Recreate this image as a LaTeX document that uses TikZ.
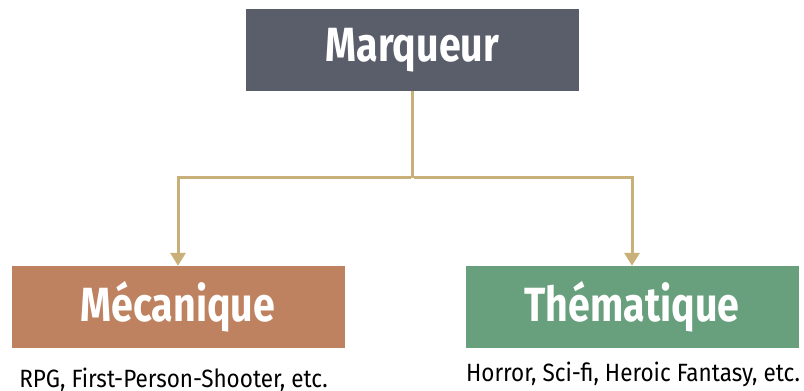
\documentclass[tikz,border=0pt]{standalone}
\usepackage{fontspec}
\setmainfont{Fira Sans}[FakeStretch=0.9]
\newfontfamily\titlefont{Fira Sans}[FakeStretch=0.82,UprightFont=* SemiBold,BoldFont=* Bold]
\usetikzlibrary{arrows.meta}
\definecolor{topgray}{RGB}{90,94,106}
\definecolor{mechbrown}{RGB}{190,130,96}
\definecolor{themegreen}{RGB}{104,160,126}
\definecolor{linkgold}{RGB}{200,176,120}
\tikzset{
  x=1pt, y=1pt,
  box/.style={rectangle, minimum width=333pt, minimum height=82pt, inner sep=0pt,
    text=white, font=\titlefont\bfseries\fontsize{48}{50}\selectfont},
  caption/.style={anchor=base, inner sep=0pt, text=black, font=\fontsize{25}{28}\selectfont},
  link/.style={draw=linkgold, line width=3pt},
  arrowlink/.style={link, -{Triangle[width=15pt,length=13pt]}}
}
\begin{document}
\begin{tikzpicture}
\useasboundingbox (0,0) rectangle (804,391);
\node[box, fill=topgray] (top) at (412.5,341) {Marqueur};
\node[box, fill=mechbrown] (mech) at (178,84) {Mécanique};
\node[box, fill=themegreen] (theme) at (632,84) {Thématique};
\node[caption] (mechcap) at (173.5,3.5) {RPG, First-Person-Shooter, etc.};
\node[caption] (themecap) at (633,9.3) {Horror, Sci-fi, Heroic Fantasy, etc.};
\coordinate (split) at (412.5,213);
\draw[link] (top.south) -- (split);
\draw[arrowlink] ([xshift=-1.5pt]split) -| (mech.north);
\draw[arrowlink] ([xshift=1.5pt]split) -| (theme.north);
\end{tikzpicture}
\end{document}
